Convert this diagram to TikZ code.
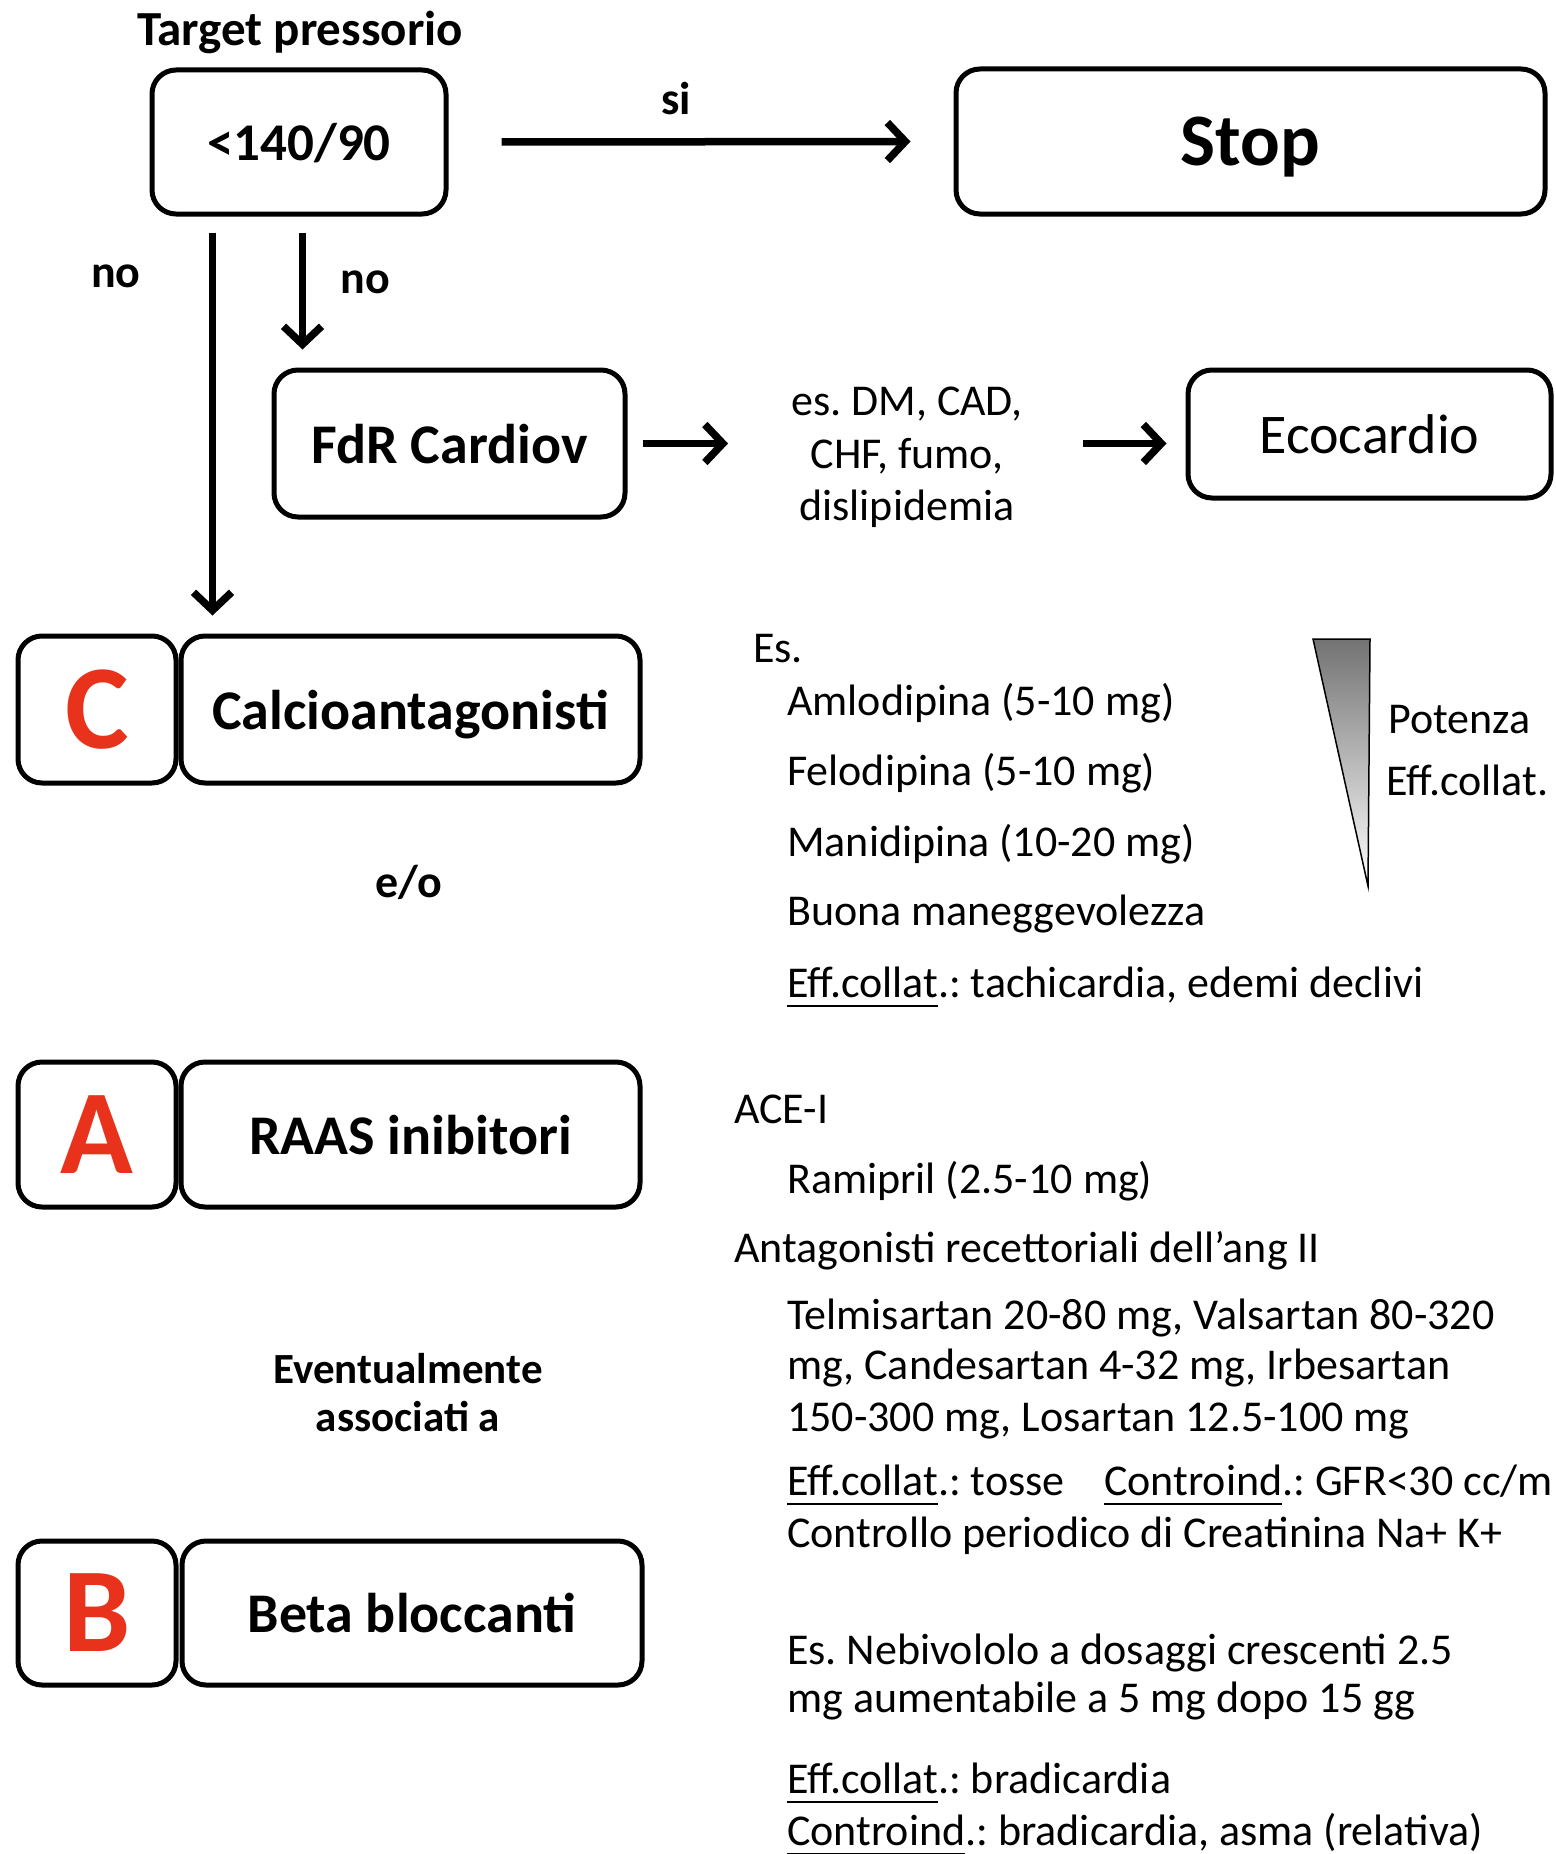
\documentclass[tikz,border=0pt]{standalone}
\usepackage{fontspec}
\setmainfont{Carlito}
\usetikzlibrary{arrows.meta,calc}
\definecolor{abcred}{RGB}{232,50,28}
\newcommand{\myul}[1]{\setbox0\hbox{#1}\rlap{\rule[-10pt]{\wd0}{2.5pt}}\box0}
\newcommand{\fsz}[2]{\fontsize{#1}{#2}\selectfont}
\frenchspacing
\tikzset{
  box/.style={draw, line width=5pt, rounded corners=24pt, inner sep=0pt, text depth=0pt, font=\bfseries\fsz{56}{64}},
  letterbox/.style={box, font=\bfseries\fsz{120}{130}, text=abcred},
  arr/.style={line width=7.5pt, -{Straight Barb[length=18pt,width=38pt]}},
  txt/.style={anchor=base west, inner sep=0pt, font=\fsz{44}{53}},
  lbl/.style={anchor=base, inner sep=0pt, font=\bfseries\fsz{46}{52}},
}
\begin{document}
\frenchspacing
\begin{tikzpicture}[x=1pt,y=-1pt]
\useasboundingbox[fill=white] (0,0) rectangle (1555,1854);

% top row
\node[lbl, font=\bfseries\fsz{49}{56}] (tp) at (300,46) {Target pressorio};
\node[box, minimum width=294pt, minimum height=144pt, font=\bfseries\fsz{53}{60}] (b140) at (299,142) {<140/90};
\node[box, minimum width=589pt, minimum height=145pt, font=\bfseries\fsz{74}{80}] (stop) at (1250.5,141.5) {Stop};
\node[lbl] (si) at (676,115) {si};
\node[lbl] (no1) at (116,287) {no};
\node[lbl] (no2) at (365,293) {no};

% FdR row
\node[box, minimum width=351pt, minimum height=147pt] (fdr) at (449.5,443.5) {FdR Cardiov};
\node[anchor=north, inner sep=0pt, align=center, font=\fsz{44}{52.5}] (es) at (907,387) {es. DM, CAD,\\CHF, fumo,\\dislipidemia};
\node[box, font=\fsz{56}{64}, minimum width=363pt, minimum height=128pt] (eco) at (1369.5,434) {Ecocardio};

% C A B boxes
\node[letterbox, minimum width=158pt, minimum height=147pt] (cl) at (97,709.5) {C};
\node[box, minimum width=459pt, minimum height=147pt] (calcio) at (410.5,709.5) {Calcioantagonisti};
\node[lbl] (eo) at (409,897) {e/o};
\node[letterbox, minimum width=158pt, minimum height=145pt] (al) at (97,1134.5) {A};
\node[box, minimum width=459pt, minimum height=145pt] (raas) at (410.5,1134.5) {RAAS inibitori};
\node[anchor=north, inner sep=0pt, align=center, font=\bfseries\fsz{43}{48}] (ev) at (408,1353) {Eventualmente\\associati a};
\node[letterbox, minimum width=158pt, minimum height=144pt] (bl) at (97,1613) {B};
\node[box, minimum width=460pt, minimum height=144pt] (beta) at (412,1613) {Beta bloccanti};

% connectors
\draw[arr] ([xshift=53pt]b140.east) -- ([xshift=-43pt]stop.west);
\draw[arr] ([xshift=63pt,yshift=-16pt]b140.south west) -- ([xshift=34pt,yshift=18pt]calcio.north west);
\draw[arr] ([xshift=153pt,yshift=-16pt]b140.south west) -- ([xshift=31pt,yshift=18pt]fdr.north west);
\draw[arr] ([xshift=15pt]fdr.east) -- ($(es.west |- fdr.east)+(-63,0)$);
\draw[arr] ($(es.east |- fdr.east)+(60,0)$) -- ($(eco.west |- fdr.east)+(-19,0)$);

% calcioantagonisti text
\node[txt] (es0) at (753,662) {Es.};
\node[txt] (am) at (787,715) {Amlodipina (5-10 mg)};
\node[txt] (fe) at (787,785) {Felodipina (5-10 mg)};
\node[txt] (ma) at (787,856) {Manidipina (10-20 mg)};
\node[txt] (bu) at (787,925) {Buona maneggevolezza};
\node[txt] (ec1) at (787,997) {\myul{Eff.collat}.: tachicardia, edemi declivi};
\path[draw, line width=1.5pt, top color=black!55, bottom color=white] (1313,639) -- (1370,639) -- (1368,886) -- cycle;
\node[txt] (pot) at (1388,733) {Potenza};
\node[txt] (effc) at (1386,795) {Eff.collat.};

% RAAS text
\node[txt] (ace) at (734,1123) {ACE-I};
\node[txt] (ram) at (787,1193) {Ramipril (2.5-10 mg)};
\node[txt] (ant) at (734,1262) {Antagonisti recettoriali dell’ang II};
\node[txt] (tel1) at (787,1329) {Telmisartan 20-80 mg, Valsartan 80-320};
\node[txt] (tel2) at (787,1379) {mg, Candesartan 4-32 mg, Irbesartan};
\node[txt] (tel3) at (787,1431) {150-300 mg, Losartan 12.5-100 mg};
\node[txt] (ec2) at (787,1495) {\myul{Eff.collat}.: tosse};
\node[txt] (ci1) at (1104,1495) {\myul{Controind}.: GFR<30 cc/m};
\node[txt] (cp) at (787,1547) {Controllo periodico di Creatinina Na+ K+};

% Beta text
\node[txt] (neb1) at (787,1664) {Es. Nebivololo a dosaggi crescenti 2.5};
\node[txt] (neb2) at (787,1712) {mg aumentabile a 5 mg dopo 15 gg};
\node[txt] (ec3) at (787,1793) {\myul{Eff.collat}.: bradicardia};
\node[txt] (ci2) at (787,1845) {\myul{Controind}.: bradicardia, asma (relativa)};
\end{tikzpicture}
\end{document}
